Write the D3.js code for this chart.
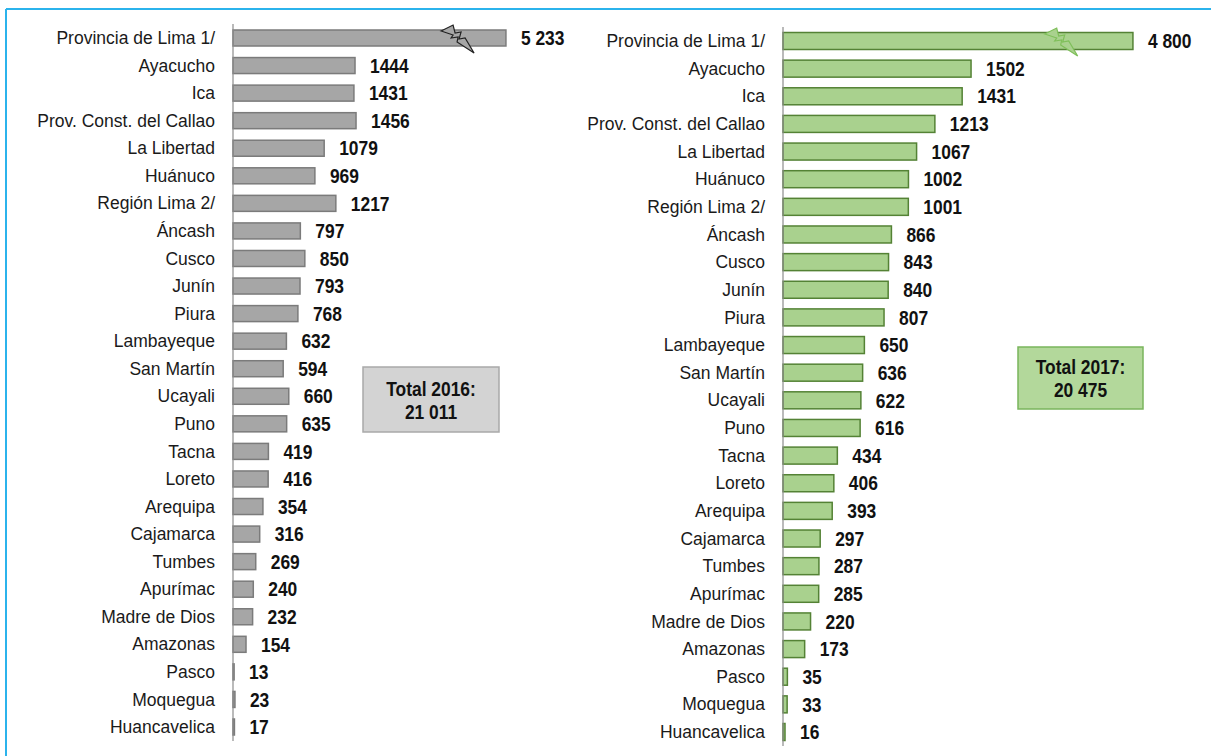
<!DOCTYPE html>
<html>
<head>
<meta charset="utf-8">
<script src="https://cdn.jsdelivr.net/npm/d3@7"></script>
<style>
  body { margin: 0; background: #fff; }
  svg { display: block; }
  .cat { font-family: "Liberation Sans", Arial, sans-serif; font-size: 17.5px; fill: #1a1a1a; }
  .val { font-family: "Liberation Sans", Arial, sans-serif; font-size: 20px; font-weight: bold; fill: #111; }
  .box { font-family: "Liberation Sans", Arial, sans-serif; font-size: 20px; font-weight: bold; fill: #111; }
</style>
</head>
<body>
<svg id="chart" width="1211" height="756"></svg>
<script>
// Regions, same order in both panels
var regions = ["Provincia de Lima 1/", "Ayacucho", "Ica", "Prov. Const. del Callao", "La Libertad",
  "Huánuco", "Región Lima 2/", "Áncash", "Cusco", "Junín", "Piura", "Lambayeque", "San Martín",
  "Ucayali", "Puno", "Tacna", "Loreto", "Arequipa", "Cajamarca", "Tumbes", "Apurímac",
  "Madre de Dios", "Amazonas", "Pasco", "Moquegua", "Huancavelica"];

var values2016 = [5233, 1444, 1431, 1456, 1079, 969, 1217, 797, 850, 793, 768, 632, 594,
  660, 635, 419, 416, 354, 316, 269, 240, 232, 154, 13, 23, 17];

var values2017 = [4800, 1502, 1431, 1213, 1067, 1002, 1001, 866, 843, 840, 807, 650, 636,
  622, 616, 434, 406, 393, 297, 287, 285, 220, 173, 35, 33, 16];

var totals = ["Total 2016:\n21 011", "Total 2017:\n20 475"];

// first bar is cut (axis break), shown only up to this value
var cutShown = [3230, 2795];
var cutMark = [2640, 2210];

// narrow bold look (no Arial Narrow available)
var narrow = 0.87;

var svg = d3.select("#chart");

// frame
svg.append("line").attr("x1", 6).attr("x2", 1211).attr("y1", 9).attr("y2", 9)
  .attr("stroke", "#2bb3ec").attr("stroke-width", 2);
svg.append("line").attr("x1", 6).attr("x2", 6).attr("y1", 9).attr("y2", 756)
  .attr("stroke", "#2bb3ec").attr("stroke-width", 2);

var spaceFmt = d3.formatLocale({ decimal: ",", thousands: " ", grouping: [3], currency: ["", ""] }).format(",");
function fmt(v) { return v > 2000 ? spaceFmt(v) : String(v); }

var panels = [
  { data: values2016, x0: 233, pxPerUnit: 0.0845, y0: 38, y1: 727, barH: 16,
    fill: "#a6a6a6", stroke: "#7b7b7b", boltStroke: "#222", boltFill: "#a6a6a6",
    box: { x: 363, y: 367, w: 136, h: 65, fill: "#d3d3d3", stroke: "#a9a9a9" }, axisTop: 24, axisBot: 741 },
  { data: values2017, x0: 783, pxPerUnit: 0.1252, y0: 41, y1: 732, barH: 17,
    fill: "#a9d18e", stroke: "#548235", boltStroke: "#7fbf5a", boltFill: "#a9d18e",
    box: { x: 1018, y: 347, w: 125, h: 62, fill: "#b3d89b", stroke: "#7ab55c" }, axisTop: 27, axisBot: 746 }
];

panels.forEach(function(p, pi) {
  var rows = regions.map(function(r, i) { return { name: r, value: p.data[i], shown: i === 0 ? cutShown[pi] : p.data[i] }; });

  var x = d3.scaleLinear().domain([0, 6000]).range([p.x0, p.x0 + 6000 * p.pxPerUnit]);
  var y = d3.scalePoint().domain(regions).range([p.y0, p.y1]);

  var g = svg.append("g");

  // category labels
  g.selectAll(".cat").data(rows).enter().append("text")
    .attr("class", "cat")
    .attr("x", p.x0 - 18)
    .attr("y", function(d) { return y(d.name); })
    .attr("dy", "0.35em")
    .attr("text-anchor", "end")
    .text(function(d) { return d.name; });

  // bars
  g.selectAll(".bar").data(rows).enter().append("rect")
    .attr("class", "bar")
    .attr("x", x(0))
    .attr("y", function(d) { return y(d.name) - p.barH / 2; })
    .attr("width", function(d) { return Math.max(1, x(d.shown) - x(0)); })
    .attr("height", p.barH)
    .attr("fill", p.fill)
    .attr("stroke", p.stroke)
    .attr("stroke-width", 1.5);

  // axis line
  g.append("line")
    .attr("x1", x(0)).attr("x2", x(0))
    .attr("y1", p.axisTop).attr("y2", p.axisBot)
    .attr("stroke", "#8c8c8c").attr("stroke-width", 1.2);

  // value labels
  g.selectAll(".val").data(rows).enter().append("text")
    .attr("class", "val")
    .attr("transform", function(d) {
      return "translate(" + (x(d.shown) + 15) + "," + y(d.name) + ") scale(" + narrow + ",1)";
    })
    .attr("dy", "0.36em")
    .text(function(d) { return fmt(d.value); });

  // break mark on the cut bar
  var bx = x(cutMark[pi]), by = y(regions[0]);
  var bolt = [[-15, -7], [-3, -13], [-1, -5], [5, -6], [3, 1], [9, 0], [18, 15], [1, 4], [2, -1], [-5, 0], [-3, -3]];
  g.append("path")
    .attr("d", d3.line()(bolt.map(function(d) { return [bx + d[0], by + d[1]]; })) + "Z")
    .attr("fill", p.boltFill)
    .attr("stroke", p.boltStroke)
    .attr("stroke-width", 1.2)
    .attr("stroke-linejoin", "miter");

  // total box
  var b = p.box;
  g.append("rect")
    .attr("x", b.x).attr("y", b.y).attr("width", b.w).attr("height", b.h)
    .attr("fill", b.fill).attr("stroke", b.stroke).attr("stroke-width", 1.5);
  var lines = totals[pi].split("\n");
  g.selectAll(".box").data(lines).enter().append("text")
    .attr("class", "box")
    .attr("transform", function(d, i) {
      return "translate(" + (b.x + b.w / 2) + "," + (b.y + b.h / 2 - 11 + i * 23) + ") scale(" + narrow + ",1)";
    })
    .attr("dy", "0.35em")
    .attr("text-anchor", "middle")
    .text(function(d) { return d; });
});
</script>
</body>
</html>
